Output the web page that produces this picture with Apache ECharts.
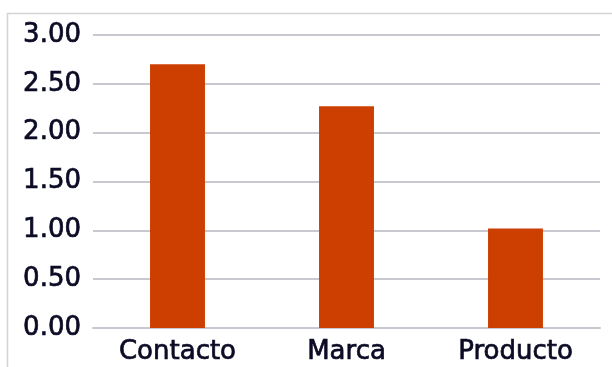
<!DOCTYPE html>
<html>
<head>
<meta charset="utf-8">
<script src="https://cdn.jsdelivr.net/npm/echarts@6/dist/echarts.min.js"></script>
<style>
  html, body { margin: 0; padding: 0; background: #ffffff; }
  #chart { width: 612px; height: 367px; }
</style>
</head>
<body>
<div id="chart"></div>
<script>
// Category names and scores
const categories = ['Contacto', 'Marca', 'Producto'];
const scores = [2.70, 2.27, 1.02];

// Value axis range
const yMin = 0;
const yMax = 3;
const yStep = 0.5;

const chart = echarts.init(document.getElementById('chart'), null, { renderer: 'canvas' });

const textColor = '#0b0b26';
const fontFamily = '"DejaVu Sans", Verdana, sans-serif';
// a thin outline in the text colour gives the labels a medium weight
const labelText = {
  color: textColor,
  fontSize: 26,
  fontFamily: fontFamily,
  textBorderColor: textColor,
  textBorderWidth: 0.7
};

chart.setOption({
  animation: false,
  graphic: [{
    type: 'rect',
    shape: { x: 7.5, y: 13.5, width: 700, height: 400 },
    style: { fill: 'none', stroke: '#d4d4d8', lineWidth: 1.5 },
    silent: true
  }],
  grid: { left: 93, right: 12, top: 35, bottom: 39, containLabel: false },
  xAxis: {
    type: 'category',
    data: categories,
    axisTick: { show: false },
    axisLine: { show: true, lineStyle: { color: '#c8c8d0', width: 2 } },
    axisLabel: Object.assign({ margin: 11 }, labelText)
  },
  yAxis: {
    type: 'value',
    min: yMin,
    max: yMax,
    interval: yStep,
    axisLine: { show: false },
    axisTick: { show: false },
    splitLine: { lineStyle: { color: '#c8c8d0', width: 2 } },
    axisLabel: Object.assign({
      margin: 12,
      padding: [5, 0, 0, 0],
      formatter: v => v.toFixed(2)
    }, labelText)
  },
  series: [{
    type: 'bar',
    data: scores,
    barWidth: '32.5%',
    itemStyle: { color: '#cc3f00' }
  }]
});
</script>
</body>
</html>
